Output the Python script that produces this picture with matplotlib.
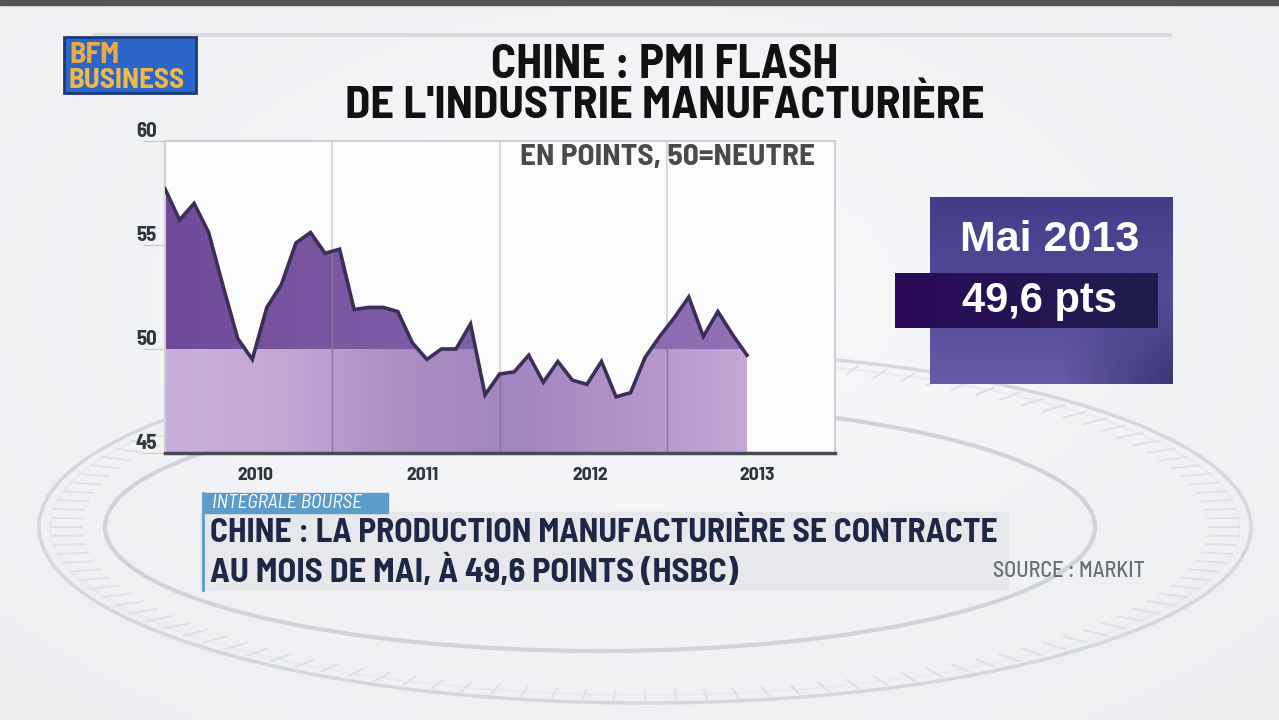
import numpy as np
import matplotlib
matplotlib.use("Agg")
import matplotlib.pyplot as plt
from matplotlib import font_manager
from matplotlib.patches import Ellipse, Rectangle
from matplotlib.colors import LinearSegmentedColormap

# ---------------- data ----------------
months = ["2010-01", "2010-02", "2010-03", "2010-04", "2010-05", "2010-06", "2010-07", "2010-08",
          "2010-09", "2010-10", "2010-11", "2010-12", "2011-01", "2011-02", "2011-03", "2011-04",
          "2011-05", "2011-06", "2011-07", "2011-08", "2011-09", "2011-10", "2011-11", "2011-12",
          "2012-01", "2012-02", "2012-03", "2012-04", "2012-05", "2012-06", "2012-07", "2012-08",
          "2012-09", "2012-10", "2012-11", "2012-12", "2013-01", "2013-02", "2013-03", "2013-04",
          "2013-05"]
pmi = [57.7, 56.2, 57.0, 55.6, 53.0, 50.5, 49.5, 52.0, 53.1, 55.1, 55.6, 54.6, 54.8, 51.9,
       52.0, 52.0, 51.8, 50.3, 49.5, 50.0, 50.0, 51.2, 47.8, 48.8, 48.9, 49.7, 48.4, 49.4,
       48.5, 48.3, 49.4, 47.7, 47.9, 49.6, 50.6, 51.5, 52.5, 50.6, 51.8, 50.7, 49.7]
year_labels = ["2010", "2011", "2012", "2013"]
y_ticks = [45, 50, 55, 60]
neutral = 50

# ---------------- fonts ----------------
def wnum(f):
    w = f.weight
    if isinstance(w, (int, float)):
        return int(w)
    return {"bold": 700, "semibold": 600, "demibold": 600, "heavy": 800, "black": 900,
            "medium": 500, "normal": 400, "regular": 400, "light": 300}.get(str(w).lower(), 400)

def find_font(names, wmin, wmax, style="normal"):
    for n in names:
        for f in font_manager.fontManager.ttflist:
            if f.name == n and wmin <= wnum(f) <= wmax and f.style == style and "[" not in f.fname:
                return f
    return None

PRIO = ["Barlow Semi Condensed", "Roboto Condensed", "Fira Sans Condensed", "IBM Plex Sans Condensed",
        "Encode Sans Semi Condensed", "Asap Condensed", "Liberation Sans Narrow", "Barlow Condensed",
        "DejaVu Sans Condensed"]
fb = find_font(PRIO, 600, 800)
fr = find_font(PRIO, 400, 500)
fi = find_font(PRIO, 400, 600, "italic")

def fprop(f, size, bold=True):
    if f is not None:
        p = font_manager.FontProperties(fname=f.fname)
    else:
        p = font_manager.FontProperties(family="DejaVu Sans", weight="bold" if bold else "normal")
    p.set_size(size)
    return p

REG = "Liberation Sans"

W, H = 1279, 720
fig = plt.figure(figsize=(W / 100, H / 100), dpi=100)
renderer = fig.canvas.get_renderer()

def fx(px):
    return px / W

def fy(py):
    return 1 - py / H

def T(x, y, s, size, f, bold=True, width=None, **kw):
    t = fig.text(fx(x), fy(y), s, fontproperties=fprop(f, size, bold), **kw)
    if width is not None:
        w = t.get_window_extent(renderer=renderer).width
        t.set_fontsize(size * width / w)
    return t

# ---------------- background ----------------
bg = fig.add_axes([0, 0, 1, 1], zorder=0)
bg.set_xlim(0, W)
bg.set_ylim(H, 0)
bg.axis("off")
yy, xx = np.mgrid[0:H, 0:W]
base = 0.935 + 0.045 * np.exp(-((xx - 640) ** 2 / (2 * 500 ** 2) + (yy - 300) ** 2 / (2 * 300 ** 2)))
img = np.dstack([base * 0.985, base * 0.99, base * 1.0])
bg.imshow(np.clip(img, 0, 1), extent=[0, W, H, 0], aspect="auto", zorder=0)
bg.add_patch(Rectangle((0, 0), W, 5, color="#555555", zorder=1))
bg.plot([95, 1170], [35, 35], color="#d9dbdf", lw=3, zorder=1)
bg.add_patch(Ellipse((645, 527), 1212, 352, fill=False, ec="#d4d7de", lw=2.5, zorder=1))
bg.add_patch(Ellipse((645, 527), 1190, 336, fill=False, ec="#e8eaee", lw=1.2, zorder=1))
bg.add_patch(Ellipse((600, 527), 990, 248, fill=False, ec="#d0d3db", lw=3.0, zorder=1))
for t in np.linspace(0, 2 * np.pi, 120, endpoint=False):
    r1, r2 = 0.93, 0.98
    bg.plot([645 + 606 * r1 * np.cos(t), 645 + 606 * r2 * np.cos(t)],
            [527 + 176 * r1 * np.sin(t), 527 + 176 * r2 * np.sin(t)],
            color="#dde0e6", lw=1.4, zorder=1)

# ---------------- logo ----------------
bg.add_patch(Rectangle((64, 37), 132, 56, color="#2c66c8", ec="#1c3a7a", lw=2, zorder=2))
T(69, 63, "BFM", 18, fb, width=50, color="#f0a840", va="baseline", ha="left", zorder=12)
T(68, 88, "BUSINESS", 16, fb, width=116, color="#f0b848", va="baseline", ha="left", zorder=12)

# ---------------- titles ----------------
T(665, 66, "CHINE : PMI FLASH", 30, fb, width=348, color="#111111", ha="center", va="center", zorder=12)
T(665, 107, "DE L'INDUSTRIE MANUFACTURIÈRE", 30, fb, width=640, color="#111111", ha="center",
  va="center", zorder=12)

# ---------------- chart ----------------
x = np.arange(len(pmi))
y = np.array(pmi)
ax = fig.add_axes([fx(165), fy(453), fx(835 - 165), fy(141) - fy(453)], zorder=2)
ax.set_facecolor("#fbfbfc")
ax.set_xlim(0, 46.05)
ax.set_ylim(45, 60)

under = ax.fill_between(x, 45, y, color="none", lw=0)
clip = under.get_paths()[0]
grad = np.linspace(0, 1, 256).reshape(1, -1)
cm_low = LinearSegmentedColormap.from_list("low", ["#c8aeda", "#c3a8d7", "#ab8ec4", "#a286bf", "#b193c8", "#c3a7d6"])
im1 = ax.imshow(grad, extent=[0, 40, 45, 50], aspect="auto", cmap=cm_low, zorder=1, origin="lower")
im1.set_clip_path(clip, transform=ax.transData)
cm_high = LinearSegmentedColormap.from_list("high", ["#6e4a98", "#7a56a0", "#8060a8", "#8868ae", "#9270b6"])
im2 = ax.imshow(grad, extent=[0, 40, 50, 60], aspect="auto", cmap=cm_high, zorder=1, origin="lower")
im2.set_clip_path(clip, transform=ax.transData)

ax.plot(x, y, color="#3b2f58", lw=2.6, zorder=4, solid_joinstyle="miter")

for gx in [11.5, 23.0, 34.5]:
    ax.axvline(gx, color="#d2d2d8", lw=1.2, zorder=0.5)
    seg = ax.axvline(gx, color="#8a72a2", lw=1.0, zorder=2)
    seg.set_clip_path(clip, transform=ax.transData)

ax.set_xticks([6.2, 17.7, 29.2, 40.7])
ax.set_xticklabels(year_labels)
ax.set_yticks(y_ticks)
ax.set_yticklabels([str(v) for v in y_ticks])
ax.tick_params(axis="x", length=0, pad=10, labelcolor="#2e3440")
ax.tick_params(axis="y", length=16, width=0.8, color="#c8c8c8", pad=-10, labelcolor="#2e3440")
for lab in ax.get_xticklabels():
    lab.set_fontproperties(fprop(fb, 14))
for lab in ax.get_yticklabels():
    lab.set_fontproperties(fprop(fb, 15))
    lab.set_verticalalignment("bottom")

for side in ["top", "right", "left"]:
    ax.spines[side].set_color("#d0d0d4")
    ax.spines[side].set_linewidth(1.5)
ax.spines["bottom"].set_color("#4a4a55")
ax.spines["bottom"].set_linewidth(2.5)

T(667, 157, "EN POINTS, 50=NEUTRE", 17, fb, width=295, color="#4a4a4a", ha="center", va="center", zorder=12)

# ---------------- value box ----------------
bx = fig.add_axes([fx(930), fy(384), fx(1173 - 930), fy(197) - fy(384)], zorder=3)
bx.axis("off")
yy2, xx2 = np.mgrid[0:1:200j, 0:1:260j]
c_top = np.array([0.26, 0.24, 0.54])
c_bot = np.array([0.40, 0.35, 0.66])
c_dark = np.array([0.10, 0.12, 0.30])
t = yy2[..., None]
box = c_top * (1 - t) + c_bot * t
rfade = np.clip((xx2 - 0.55) / 0.45, 0, 1)[..., None] * np.clip((yy2 - 0.5) / 0.5, 0, 1)[..., None]
box = box * (1 - 0.6 * rfade) + c_dark * 0.6 * rfade
bx.imshow(np.clip(box, 0, 1), extent=[0, 1, 0, 1], aspect="auto", origin="upper")
bx.set_xlim(0, 1)
bx.set_ylim(0, 1)

band = fig.add_axes([fx(895), fy(328), fx(1158 - 895), fy(273) - fy(328)], zorder=4)
band.axis("off")
g2 = np.linspace(0, 1, 256)
band_img = np.array([[0.17, 0.04, 0.35]]) * (1 - g2[:, None]) + np.array([[0.12, 0.12, 0.30]]) * g2[:, None]
band.imshow(band_img[None, :, :], extent=[0, 1, 0, 1], aspect="auto")
band.set_xlim(0, 1)
band.set_ylim(0, 1)

fig.text(fx(1050), fy(240), "Mai 2013", fontsize=31, fontweight="bold", family=REG, color="white",
         ha="center", va="center", zorder=20)
fig.text(fx(1040), fy(301), "49,6 pts", fontsize=30, fontweight="bold", family=REG, color="white",
         ha="center", va="center", zorder=20)

# ---------------- banner ----------------
bg.add_patch(Rectangle((200, 512), 808, 78, color="#e6e7ea", alpha=0.9, zorder=2))
bg.add_patch(Rectangle((205, 493), 183, 20, color="#5b9cc8", zorder=3))
bg.plot([203, 203], [493, 590], color="#5b9cc8", lw=2, zorder=3)
T(212, 503, "INTÉGRALE BOURSE", 11, fi if fi is not None else fr, bold=False, width=150, color="white",
  ha="left", va="center", zorder=12)
T(210, 533, "CHINE : LA PRODUCTION MANUFACTURIÈRE SE CONTRACTE", 23, fb, width=787,
  color="#1e2846", ha="left", va="center", zorder=12)
T(210, 571, "AU MOIS DE MAI, À 49,6 POINTS (HSBC)", 23, fb, width=528,
  color="#1e2846", ha="left", va="center", zorder=12)
T(1145, 571, "SOURCE : MARKIT", 12, fr, bold=False, width=152, color="#6a6e76",
  ha="right", va="center", zorder=12)

fig.savefig("out.png", dpi=100)
